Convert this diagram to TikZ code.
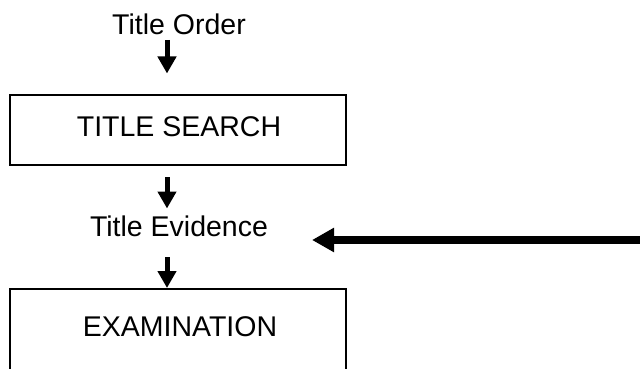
\documentclass[tikz,border=0pt]{standalone}
\usepackage{fontspec}
\setmainfont{Liberation Sans}
\usetikzlibrary{arrows.meta}
\begin{document}
\begin{tikzpicture}[x=1pt,y=-1pt,
  lbl/.style={anchor=base,inner sep=0pt,font=\fontsize{28.5}{34}\selectfont},
  boxframe/.style={draw,line width=1.6pt},
  smallarrow/.style={line width=5pt,-{Triangle[length=17pt,width=18pt]}},
  bigarrow/.style={line width=8pt,-{Triangle[length=22pt,width=23pt]}}]
\useasboundingbox (0,0) rectangle (640,369);
\clip (0,0) rectangle (640,369);
\fill[white] (0,0) rectangle (640,369);
% boxes
\node[boxframe,minimum width=336pt,minimum height=70pt,inner sep=0pt] (searchbox) at (178,130) {};
\node[boxframe,minimum width=336pt,minimum height=120pt,inner sep=0pt] (exambox) at (178,349) {};
% texts
\node[lbl] (order) at (179,35) {Title Order};
\node[lbl] (search) at (179,136.7) {TITLE SEARCH};
\node[lbl] (evidence) at (179,236.7) {Title Evidence};
\node[lbl] (exam) at (180,336.7) {EXAMINATION};
% arrow end points
\coordinate (a1s) at (167,40);
\coordinate (a1e) at (167,73.5);
\coordinate (a2s) at (167,177);
\coordinate (a2e) at (167,208.5);
\coordinate (a3s) at (167,257);
\coordinate (a3e) at (167,288);
\coordinate (bigs) at (642,240);
\coordinate (bige) at (312,240);
\draw[smallarrow] (a1s) -- (a1e);
\draw[smallarrow] (a2s) -- (a2e);
\draw[smallarrow] (a3s) -- (a3e);
\draw[bigarrow] (bigs) -- (bige);
\end{tikzpicture}
\end{document}
